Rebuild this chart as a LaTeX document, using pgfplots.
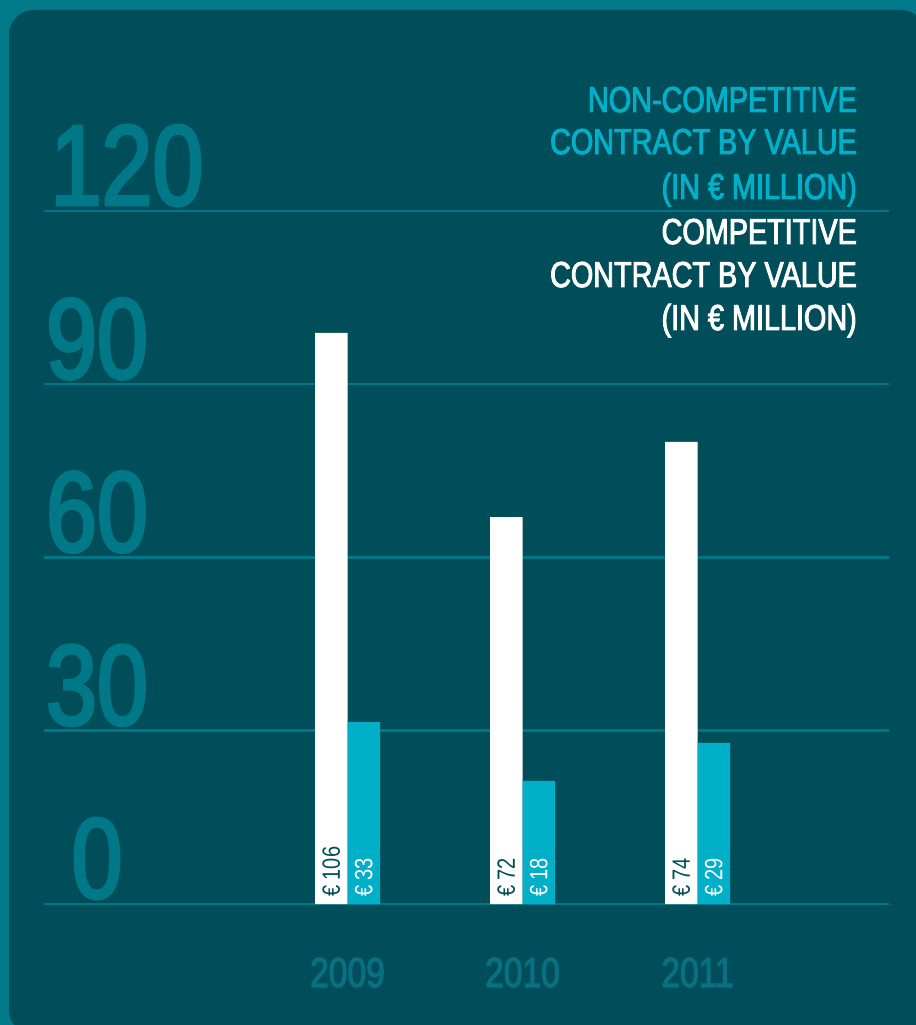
\documentclass[border=0pt]{standalone}
\usepackage{fontspec}
\setmainfont{Liberation Sans}[FakeStretch=0.8]
\newfontfamily\boldc{Liberation Sans}[FakeStretch=0.8, FakeBold=2.6]
\usepackage{pgfplots}
\pgfplotsset{compat=1.18}
\usepackage{pgfplotstable}

\definecolor{outerc}{RGB}{0,122,138}
\definecolor{panelc}{RGB}{0,78,90}
\definecolor{gridc}{RGB}{0,118,134}
\definecolor{tickc}{RGB}{0,120,136}
\definecolor{yearc}{RGB}{8,112,128}
\definecolor{cyanc}{RGB}{0,175,200}

\pgfplotstableread[col sep=comma]{
x,y,lab
0,98.9,€ 106
1,67.0,€ 72
2,80.0,€ 74
}\comp
\pgfplotstableread[col sep=comma]{
x,y,lab
0,31.5,€ 33
1,21.3,€ 18
2,27.9,€ 29
}\noncomp

\begin{document}
\begin{tikzpicture}
\useasboundingbox (0,0) rectangle (916bp,1025bp);
\clip (0,0) rectangle (916bp,1025bp);
\fill[outerc] (0,0) rectangle (916bp,1025bp);
\fill[panelc, rounded corners=25bp] (9bp,-10bp) rectangle (926bp,1015bp);

\begin{axis}[
  at={(44bp,121bp)}, anchor=south west,
  scale only axis, width=845bp, height=693bp,
  xmin=-1.7343, xmax=3.0943, ymin=0, ymax=120,
  axis line style={draw=none},
  major tick length=0pt, tick style={draw=none},
  ytick={0,30,60,90,120},
  yticklabels={0,30,60,90,\hspace*{60bp}120},
  ymajorgrids, grid style={draw=gridc, line width=2.5bp},
  xtick={0,1,2}, xticklabels={2009,2010,2011},
  yticklabel style={anchor=base, xshift=53bp, yshift=6bp, inner sep=0pt,
    font=\boldc\fontsize{114.5bp}{114.5bp}\selectfont, text=tickc},
  xticklabel style={anchor=base, yshift=-83bp, inner sep=0pt,
    font=\boldc\fontsize{42bp}{42bp}\selectfont, text=yearc},
  /pgf/number format/assume math mode=true,
  clip=false,
]
\addplot[ybar, bar width=32.5bp, bar shift=-16.25bp, fill=white, draw=none]
  table[x=x, y=y] {\comp};
\addplot[ybar, bar width=32.5bp, bar shift=16.25bp, fill=cyanc, draw=none]
  table[x=x, y=y] {\noncomp};
\addplot[only marks, mark=*, mark size=0pt, mark options={draw=none, fill=none},
  point meta=explicit symbolic, nodes near coords,
  every node near coord/.append style={rotate=90, anchor=west, inner sep=0pt,
    font=\fontsize{25bp}{25bp}\selectfont, text=panelc}]
  table[x expr=\thisrow{x}-0.092857, y expr=1.2, meta=lab] {\comp};
\addplot[only marks, mark=*, mark size=0pt, mark options={draw=none, fill=none},
  point meta=explicit symbolic, nodes near coords,
  every node near coord/.append style={rotate=90, anchor=west, inner sep=0pt,
    font=\fontsize{25bp}{25bp}\selectfont, text=white}]
  table[x expr=\thisrow{x}+0.092857, y expr=1.2, meta=lab] {\noncomp};
\end{axis}

\begin{scope}[every node/.style={anchor=base east, inner sep=0pt,
    font=\boldc\fontsize{36bp}{36bp}\selectfont}]
\node[text=cyanc] at (857bp,913bp) {NON-COMPETITIVE};
\node[text=cyanc] at (857bp,871bp) {CONTRACT BY VALUE};
\node[text=cyanc] at (857bp,826bp) {(IN € MILLION)};
\node[text=white] at (857bp,781bp) {COMPETITIVE};
\node[text=white] at (857bp,738bp) {CONTRACT BY VALUE};
\node[text=white] at (857bp,695bp) {(IN € MILLION)};
\end{scope}
\end{tikzpicture}
\end{document}
